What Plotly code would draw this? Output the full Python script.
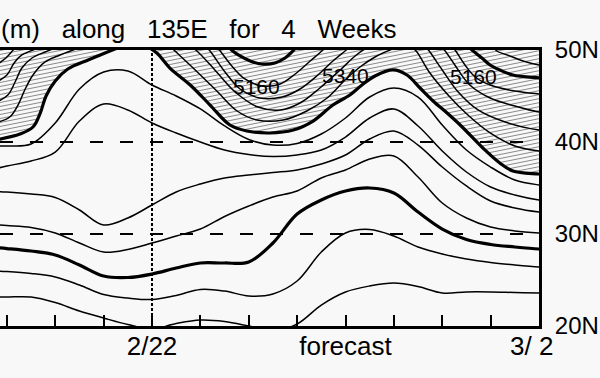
import plotly.graph_objects as go

BG = "#f8f8f8"
INK = "#000000"
FONT = "Liberation Sans, Arial, sans-serif"

# ---------------- axes / categories ----------------
# time axis in days relative to 2/22 (start of the forecast)
tick_days = list(range(-3, 9))
tick_names = {0: "2/22", 4: "forecast", 8: "3/ 2\u00a0\u00a0"}
lat_ticks = [20, 30, 40, 50]
lat_labels = ["20N", "30N", "40N", "50N"]
ref_lats = [30, 40]          # dashed latitude guides
forecast_start = 0           # dotted line at 2/22
X_RANGE = [-3.142, 8.0]
Y_RANGE = [20, 50]

# ---------------- isoline data (latitude of each 500hPa height contour) ----------------
days = [-3.25, -3, -2.5, -2, -1.5, -1, -0.5, 0, 0.5, 1, 1.5, 2, 2.5, 3, 3.5, 4,
        4.5, 5, 5.5, 6, 6.5, 7, 7.5, 8, 8.25]

h5460 = [39.57, 39.57, 39.78, 42.07, 45.76, 47.61, 47.72, 46.20, 45.00, 43.59, 41.74, 40.27,
         39.67, 39.84, 40.87, 42.61, 44.89, 45.87, 44.89, 41.85, 39.13, 37.28, 35.87, 35.33, 35.22]
h5520 = [37.07, 37.39, 37.93, 38.91, 42.28, 44.13, 43.48, 42.07, 40.98, 40.00, 39.13, 38.64,
         38.42, 38.59, 39.13, 40.54, 42.61, 43.59, 41.74, 39.02, 36.74, 35.11, 34.24, 33.70, 33.59]
h5580 = [34.62, 34.57, 34.35, 33.97, 32.61, 30.98, 31.74, 33.15, 34.57, 35.43, 36.09, 36.41,
         36.68, 36.96, 37.61, 38.59, 40.33, 41.20, 39.67, 37.28, 35.22, 33.59, 32.83, 32.39, 32.28]
h5640 = [31.03, 30.92, 30.71, 30.11, 29.02, 28.04, 28.32, 29.02, 29.78, 30.54, 31.90, 33.04,
         34.02, 34.67, 36.09, 36.96, 38.15, 38.48, 36.20, 33.37, 31.74, 30.76, 30.33, 30.11, 30.05]
h5700 = [28.53, 28.42, 28.15, 27.72, 26.63, 25.43, 25.27, 25.65, 26.30, 26.85, 26.85, 26.96,
         29.02, 32.17, 33.70, 34.67, 35.00, 34.46, 32.39, 30.54, 29.40, 28.86, 28.59, 28.37, 28.32]
h5760 = [25.98, 25.92, 25.71, 25.33, 24.46, 23.42, 23.04, 22.88, 23.32, 23.97, 23.80, 23.26,
         23.48, 24.89, 28.04, 30.11, 30.49, 29.78, 28.59, 27.83, 27.28, 26.90, 26.63, 26.41, 26.36]
h5820 = [23.15, 23.15, 23.15, 22.55, 21.63, 20.87, 20.16, 19.67, 20.27, 20.65, 20.49, 20.00,
         19.46, 20.22, 22.28, 23.70, 24.35, 24.67, 24.29, 23.59, 23.70, 23.70, 23.64, 23.59, 23.59]

# 5400 m (thick, hatched to the north), west and east pieces
d5400_w = [-3.25, -2.73, -2.46, -2.31, -2.19, -2.0, -1.74, -1.32, -1.07, -0.87, -0.66]
h5400_w = [40.20, 40.87, 41.63, 43.15, 45.00, 46.63, 47.93, 48.91, 49.46, 49.89, 50.33]
d5400_e = [-0.15, 0.10, 0.37, 0.79, 1.20, 1.61, 1.96, 2.44, 2.92, 3.33, 3.74, 4.09, 4.34,
           4.61, 4.98, 5.27, 5.54, 5.81, 6.10, 6.37, 6.84, 7.19, 7.46, 8.0, 8.25]
h5400_e = [50.54, 49.67, 48.04, 46.20, 44.02, 41.85, 41.20, 40.98, 41.30, 42.28, 44.02, 45.11,
           46.20, 47.17, 47.83, 47.28, 45.87, 44.46, 43.15, 41.85, 39.35, 37.72, 36.85, 36.52, 36.41]

# contours inside the low-height (hatched) area; None separates pieces
d5340 = [-3.25, -2.94, -2.77, -2.63, -2.46, -2.21, -1.90, -1.63, -1.39, None,
         0.37, 0.52, 0.85, 1.34, 1.76, 2.17, 2.71, 3.20, 3.62, 3.99, 4.30, 4.61, 4.92, 5.13, None,
         5.33, 5.46, 5.73, 6.12, 6.53, 6.99, 7.50, 8.0, 8.25]
h5340 = [42.07, 42.72, 44.02, 45.65, 47.28, 48.70, 49.46, 50.00, 50.43, None,
         50.43, 49.67, 48.04, 45.54, 43.37, 42.39, 42.39, 43.37, 44.78, 46.74, 48.15, 49.24, 50.00, 50.43, None,
         50.43, 49.89, 47.61, 45.11, 42.93, 40.98, 39.57, 39.02, 38.91]
d5280 = [-3.25, -2.98, -2.83, -2.69, -2.48, -2.21, -2.0, None,
         0.79, 0.93, 1.30, 1.72, 2.19, 2.65, 3.06, 3.47, 3.89, 4.20, 4.40, 4.55, None,
         5.64, 5.73, 6.0, 6.33, 6.74, 7.30, 8.0, 8.25]
h5280 = [44.24, 45.11, 46.52, 48.04, 49.13, 49.78, 50.22, None,
         50.43, 49.89, 47.83, 45.43, 43.80, 43.48, 44.24, 45.87, 47.83, 49.35, 50.11, 50.43, None,
         50.43, 49.89, 47.83, 45.43, 43.48, 42.17, 41.30, 41.20]
d5220 = [-3.25, -3.0, -2.85, -2.69, -2.46, -2.32, None,
         1.10, 1.20, 1.51, 1.82, 2.23, 2.69, 3.06, 3.43, 3.74, 3.99, 4.09, None,
         5.95, 6.06, 6.26, 6.57, 6.99, 7.50, 8.0, 8.25]
h5220 = [46.41, 47.28, 48.59, 49.46, 50.00, 50.33, None,
         50.43, 49.89, 47.61, 45.76, 44.78, 44.89, 45.76, 47.28, 48.80, 49.89, 50.33, None,
         50.43, 49.89, 48.37, 46.20, 44.78, 43.91, 43.26, 43.15]
d5160 = [-3.25, -3.02, -2.87, -2.79, None,
         1.32, 1.41, 1.65, 1.92, 2.27, 2.65, 2.96, 3.27, 3.51, 3.60, None,
         6.20, 6.28, 6.47, 6.68, 6.99, 7.50, 8.0, 8.25]
h5160 = [48.26, 49.13, 50.00, 50.43, None,
         50.43, 49.89, 48.26, 46.85, 46.09, 46.30, 47.39, 48.80, 49.89, 50.33, None,
         50.43, 49.89, 48.37, 47.07, 46.20, 45.54, 45.22, 45.11]
d5100 = [1.57, 1.67, 1.82, 2.03, 2.27, 2.54, 2.75, 2.89, 2.98, None,
         6.53, 6.64, 6.82, 6.99, 7.19, 7.46, 8.0, 8.25]
h5100 = [50.43, 49.89, 49.35, 48.80, 48.48, 48.59, 49.13, 49.78, 50.33, None,
         50.43, 49.89, 49.13, 48.37, 47.83, 47.28, 46.96, 46.85]
d5040 = [7.05, 7.13, 7.40, 7.67, 8.0, 8.25]
h5040 = [50.43, 49.89, 49.35, 48.80, 48.37, 48.26]

# contour labels
label_texts = ["5160", "5340", "5160"]
label_days = [2.15, 3.99, 6.64]
label_lats = [46.03, 47.20, 47.10]

TITLE = "(m) along 135E for 4 Weeks"
FILL_TOP = Y_RANGE[1] + 1  # fill bound just above the frame (clipped)

THIN, THICK = 1.5, 3.2

# hatch pattern: thin, shallow slanted strips (filled parallelograms), 4 px apart
_strips = []
for k in range(6):
    y0 = 4 * k
    _strips.append("M0,%g L20,%g L20,%g L0,%g Z" % (y0, y0 - 4, y0 - 3, y0 + 1))
HATCH_PATH = " ".join(_strips)
try:
    hatch = go.scatter.Fillpattern(path=HATCH_PATH, size=20, solidity=1,
                                   fgcolor="#1a1a1a", bgcolor=BG)
except Exception:
    hatch = go.scatter.Fillpattern(shape="-", size=4, solidity=0.25,
                                   fgcolor="#222222", bgcolor=BG)


def line(x, y, width):
    return go.Scatter(x=x, y=y, mode="lines", hoverinfo="skip", showlegend=False,
                      connectgaps=False,
                      line=dict(color=INK, width=width, shape="spline", smoothing=1.0))


fig = go.Figure()

# hatched area north of the 5400 m line
for dseg, hseg in [(d5400_w, h5400_w), (d5400_e, h5400_e)]:
    fig.add_trace(go.Scatter(x=[dseg[0], dseg[-1]], y=[FILL_TOP, FILL_TOP], mode="lines",
                             line=dict(width=0, color=BG), hoverinfo="skip", showlegend=False))
    tr = line(dseg, hseg, THICK)
    tr.update(fill="tonexty", fillpattern=hatch)
    fig.add_trace(tr)

thin_sets = [(d5340, h5340), (d5280, h5280), (d5220, h5220), (d5160, h5160), (d5040, h5040),
             (days, h5460), (days, h5520), (days, h5580), (days, h5640),
             (days, h5760), (days, h5820)]
for dx, hy in thin_sets:
    fig.add_trace(line(dx, hy, THIN))
for dx, hy in [(d5100, h5100), (days, h5700)]:
    fig.add_trace(line(dx, hy, THICK))

# guides
for lat in ref_lats:
    fig.add_hline(y=lat, line=dict(color=INK, width=2, dash="13px,17px"))
fig.add_vline(x=forecast_start, line=dict(color=INK, width=2, dash="3px,2px"))

# contour labels
for t, dx, la in zip(label_texts, label_days, label_lats):
    fig.add_annotation(x=dx, y=la, text=t, showarrow=False, xanchor="center", yanchor="middle",
                       font=dict(family=FONT, size=21, color=INK))

# (cropped) title
fig.add_annotation(xref="paper", yref="paper", x=398 / 539, y=1.076, xanchor="right",
                   yanchor="middle", showarrow=False,
                   text=TITLE.replace(" ", "\u00a0" * 3),
                   font=dict(family=FONT, size=26, color=INK))

fig.update_layout(
    width=600, height=378, autosize=False,
    margin=dict(l=0, r=61, t=50, b=52, pad=0),
    paper_bgcolor=BG, plot_bgcolor=BG,
    showlegend=False,
    xaxis=dict(range=X_RANGE, tickvals=tick_days,
               ticktext=[tick_names.get(d, "") for d in tick_days],
               ticks="inside", ticklen=11, tickwidth=2, tickcolor=INK,
               showline=True, linewidth=3, linecolor=INK, mirror=True,
               showgrid=False, zeroline=False, ticklabelstandoff=-5,
               tickfont=dict(family=FONT, size=26, color=INK)),
    yaxis=dict(range=Y_RANGE, tickvals=lat_ticks, ticktext=lat_labels, side="right",
               ticks="", showline=True, linewidth=3, linecolor=INK, mirror=False,
               showgrid=False, zeroline=False, ticklabelstandoff=8,
               tickfont=dict(family=FONT, size=24, color=INK)),
)

# remove the browser's default page margin so the figure sits at the window's corner
fig.write_html("out.html",
               config={"displayModeBar": False, "staticPlot": True},
               post_script="document.body.style.margin='0';"
                           "document.body.style.background='" + BG + "';"
                           "document.body.style.overflow='hidden';")
